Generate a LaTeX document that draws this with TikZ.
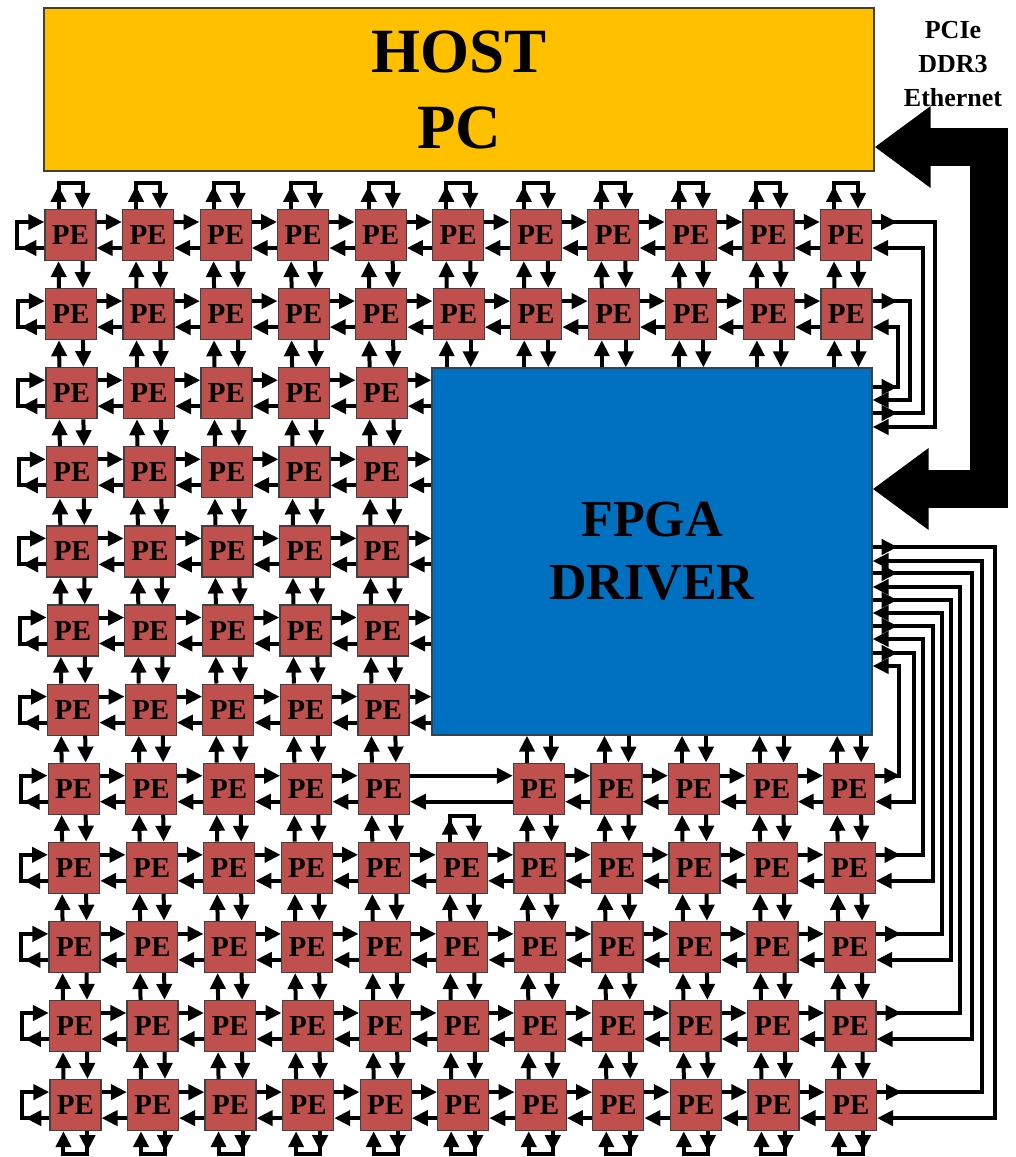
\documentclass[tikz,border=0pt]{standalone}
\usepackage{fontspec}
\setmainfont{Liberation Serif}
\usetikzlibrary{arrows.meta, calc}
\definecolor{hostgold}{HTML}{FFC000}
\definecolor{fpgablue}{HTML}{0070C0}
\definecolor{pered}{HTML}{C0504D}

\begin{document}
\begin{tikzpicture}[x=1pt, y=-1pt, >={Triangle[length=16pt, width=15pt]},
		wire/.style={line width=4pt},
		pe/.style={draw=black!75, line width=1.2pt, fill=pered, minimum size=51pt, inner sep=0pt, font=\fontsize{29}{29}\selectfont\bfseries},
		block/.style={draw=black!75, line width=1.2pt, inner sep=0pt, align=center},
		bigbus/.style={line width=38pt, {Triangle[length=56pt, width=78pt]}-{Triangle[length=56pt, width=78pt]}}]
		
		% Canvas
		\useasboundingbox (0,0) rectangle (1016,1157);
		
		% Grid spacing
		\def\colW{77.55}
		\def\rowH{79.1}
		
		% Host, FPGA and link label
		\node[block, fill=hostgold, minimum width=830pt, minimum height=163pt, font=\fontsize{63}{76}\selectfont\bfseries] (host) at (459,89.5) {HOST\\PC};
		\node[block, fill=fpgablue, minimum width=440pt, minimum height=367pt, font=\fontsize{52}{63}\selectfont\bfseries] (fpga) at (652,551.5) {FPGA\\DRIVER};
		\node[align=center, font=\fontsize{26}{34}\selectfont\bfseries] (links) at (953,64) {PCIe\\DDR3\\Ethernet};
		
		% PE array (no PE under the FPGA)
		\foreach \r in {1,...,12}{
			\foreach \c in {1,...,11}{
				\pgfmathtruncatemacro{\hole}{(\r>2)*(\r<8)*(\c>5) + (\r==8)*(\c==6)}
				\ifnum\hole=0
					\node[pe] (pe-\r-\c) at ({70.5+(\c-1)*\colW+(\r-1)*0.45}, {235+(\r-1)*\rowH}) {PE};
				\fi
			}
		}
		
		% Horizontal links
		\foreach \r in {1,...,12}{
			\foreach \c [evaluate=\c as \n using int(\c+1)] in {1,...,10}{
				\pgfmathtruncatemacro{\gap}{(\r>2)*(\r<8)*(\c>4) + (\r==8)*(\c>4)*(\c<7)}
				\ifnum\gap=0
					\draw[wire,->] ($(pe-\r-\c.east)+(0,-13)$) -- ($(pe-\r-\n.west)+(0,-13)$);
					\draw[wire,->] ($(pe-\r-\n.west)+(0,13)$) -- ($(pe-\r-\c.east)+(0,13)$);
				\fi
			}
		}
		\draw[wire,->] ($(pe-8-5.east)+(0,-13)$) -- ($(pe-8-7.west)+(0,-13)$);
		\draw[wire,->] ($(pe-8-7.west)+(0,13)$) -- ($(pe-8-5.east)+(0,13)$);
		
		% Vertical links
		\foreach \r [evaluate=\r as \m using int(\r+1)] in {1,...,11}{
			\foreach \c in {1,...,11}{
				\pgfmathtruncatemacro{\gap}{(\r>1)*(\r<8)*(\c>5) + (\r==8)*(\c==6)}
				\ifnum\gap=0
					\draw[wire,->] ($(pe-\m-\c.north)+(-12,0)$) -- ($(pe-\r-\c.south)+(-12,0)$);
					\draw[wire,->] ($(pe-\r-\c.south)+(12,0)$) -- ($(pe-\m-\c.north)+(12,0)$);
				\fi
			}
		}
		
		% Links into the FPGA block
		\foreach \r in {3,...,7}{
			\draw[wire,->] ($(pe-\r-5.east)+(0,-13)$) -- ($(pe-\r-5.east -| fpga.west)+(0,-13)$);
			\draw[wire,->] ($(pe-\r-5.east -| fpga.west)+(0,13)$) -- ($(pe-\r-5.east)+(0,13)$);
		}
		\foreach \c in {6,...,11}{
			\draw[wire,->] ($(pe-2-\c.south |- fpga.north)+(-12,0)$) -- ($(pe-2-\c.south)+(-12,0)$);
			\draw[wire,->] ($(pe-2-\c.south)+(12,0)$) -- ($(pe-2-\c.south |- fpga.north)+(12,0)$);
		}
		\foreach \c in {7,...,11}{
			\draw[wire,->] ($(pe-8-\c.north)+(-12,0)$) -- ($(pe-8-\c.north |- fpga.south)+(-12,0)$);
			\draw[wire,->] ($(pe-8-\c.north |- fpga.south)+(12,0)$) -- ($(pe-8-\c.north)+(12,0)$);
		}
		
		% Loop-backs on the edges
		\foreach \r in {1,...,12}{
			\draw[wire,->] ($(pe-\r-1.west)+(0,13)$) -- ++(-24,0);
			\draw[wire,->] ($(pe-\r-1.west)+(0,13)$) -- ++(-27,0) -- ++(0,-26) -- ($(pe-\r-1.west)+(0,-13)$);
		}
		\foreach \p in {pe-1-1,pe-1-2,pe-1-3,pe-1-4,pe-1-5,pe-1-6,pe-1-7,pe-1-8,pe-1-9,pe-1-10,pe-1-11,pe-9-6}{
			\draw[wire,->] ($(\p.north)+(-12,0)$) -- ++(0,-23);
			\draw[wire,->] ($(\p.north)+(-12,0)$) -- ++(0,-26) -- ++(24,0) -- ($(\p.north)+(12,0)$);
		}
		\foreach \c in {1,...,11}{
			\draw[wire,->] ($(pe-12-\c.south)+(12,0)$) -- ++(0,20);
			\draw[wire,->] ($(pe-12-\c.south)+(12,0)$) -- ++(0,23) -- ++(-24,0) -- ($(pe-12-\c.south)+(-12,0)$);
		}
		
		% Right column to FPGA (row / bus x out / fpga y in / bus x back / fpga y out)
		\foreach \r/\bu/\fu/\bd/\fd in {1/935/427/923/413, 2/910/400/898/387, 8/899/666/914/653, 9/923/639/933/626,
			10/942/613/951/600, 11/960/587/972/573, 12/982/561/995/547}{
			\draw[wire,->] ($(pe-\r-11.east)+(0,-13)$) -- ++(25,0);
			\draw[wire,->] ($(pe-\r-11.east)+(0,-13)$) -| (\bu,\fu) -- (fpga.east |- 0,\fu);
			\draw[wire,->] (fpga.east |- 0,\fd) -- ++(25,0);
			\draw[wire,->] (fpga.east |- 0,\fd) -- (\bd,\fd) |- ($(pe-\r-11.east)+(0,13)$);
		}
		
		% Host bus
		\coordinate (busTop) at (989,147);
		\coordinate (busBot) at (989,489);
		\draw[bigbus] (host.east |- busTop) -- (busTop) -- (busBot) -- (fpga.east |- busBot);
		
	\end{tikzpicture}
\end{document}
